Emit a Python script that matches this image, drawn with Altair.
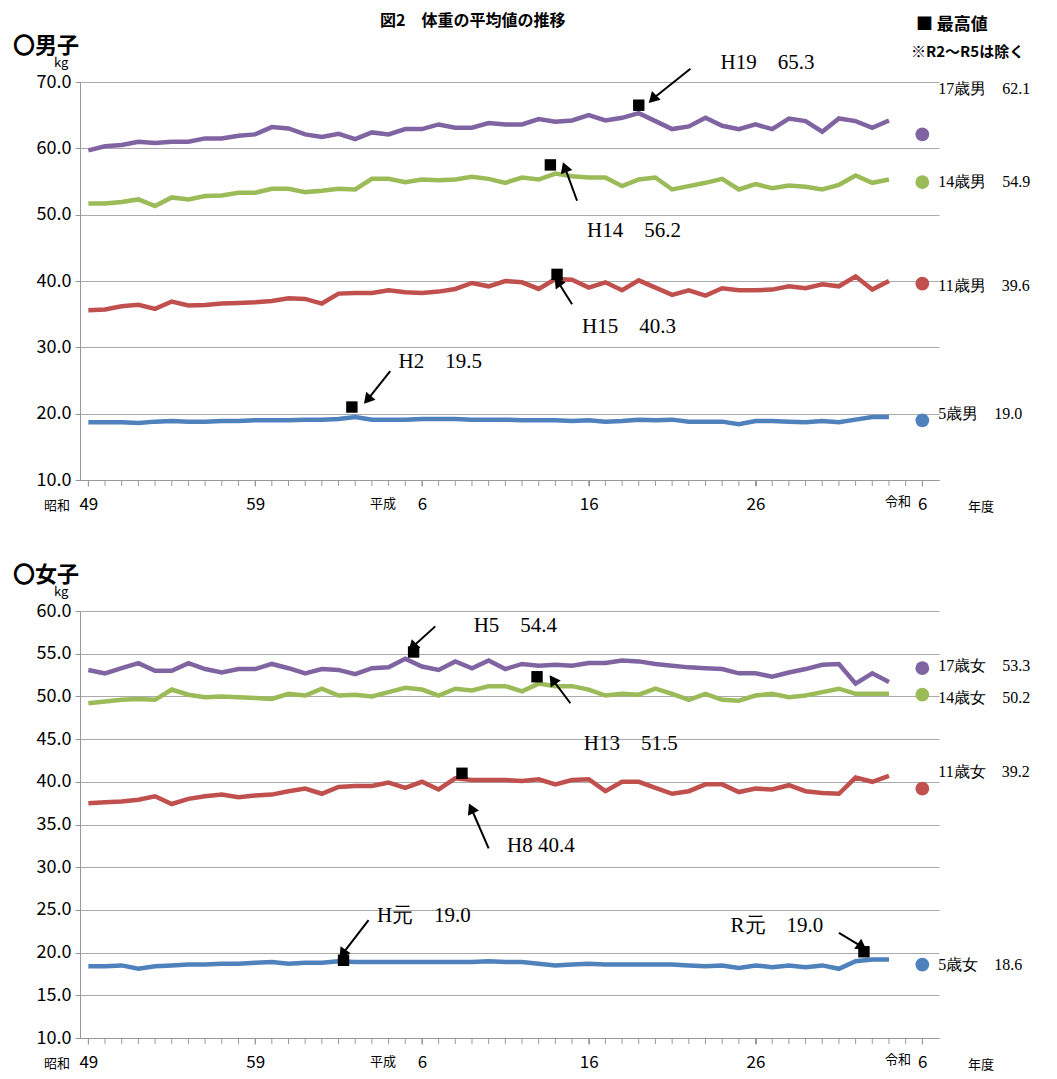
import altair as alt
import pandas as pd

years = list(range(1974, 2023))

boys17 = [59.7, 60.3, 60.5, 61.0, 60.8, 61.0, 61.0, 61.5, 61.5, 61.9, 62.1, 63.2, 63.0, 62.1, 61.7,
          62.2, 61.4, 62.4, 62.1, 62.9, 62.9, 63.6, 63.1, 63.1, 63.8, 63.6, 63.6, 64.4, 64.0, 64.2,
          65.0, 64.2, 64.6, 65.3, 64.1, 62.9, 63.3, 64.6, 63.4, 62.9, 63.6, 62.9, 64.5, 64.1, 62.5,
          64.5, 64.1, 63.1, 64.2]
boys14 = [51.7, 51.7, 51.9, 52.3, 51.3, 52.6, 52.3, 52.8, 52.9, 53.3, 53.3, 53.9, 53.9, 53.4, 53.6,
          53.9, 53.8, 55.4, 55.4, 54.9, 55.3, 55.2, 55.3, 55.7, 55.4, 54.8, 55.6, 55.3, 56.2, 55.8,
          55.6, 55.6, 54.3, 55.3, 55.6, 53.8, 54.3, 54.8, 55.4, 53.8, 54.6, 54.0, 54.4, 54.2, 53.8,
          54.5, 55.9, 54.8, 55.3]
boys11 = [35.6, 35.7, 36.2, 36.4, 35.8, 36.9, 36.3, 36.4, 36.6, 36.7, 36.8, 37.0, 37.4, 37.3, 36.6,
          38.1, 38.2, 38.2, 38.6, 38.3, 38.2, 38.4, 38.8, 39.7, 39.2, 40.0, 39.8, 38.8, 40.3, 40.2,
          39.0, 39.8, 38.6, 40.1, 39.0, 37.9, 38.6, 37.8, 38.9, 38.6, 38.6, 38.7, 39.2, 38.9, 39.5,
          39.2, 40.7, 38.7, 40.0]
boys5 = [18.7, 18.7, 18.7, 18.6, 18.8, 18.9, 18.8, 18.8, 18.9, 18.9, 19.0, 19.0, 19.0, 19.1, 19.1,
         19.2, 19.5, 19.1, 19.1, 19.1, 19.2, 19.2, 19.2, 19.1, 19.1, 19.1, 19.0, 19.0, 19.0, 18.9,
         19.0, 18.8, 18.9, 19.1, 19.0, 19.1, 18.8, 18.8, 18.8, 18.4, 18.9, 18.9, 18.8, 18.7, 18.9,
         18.7, 19.1, 19.5, 19.5]

girls17 = [53.1, 52.7, 53.3, 53.9, 53.0, 53.0, 53.9, 53.2, 52.8, 53.2, 53.2, 53.8, 53.3, 52.7, 53.2,
           53.1, 52.6, 53.3, 53.4, 54.4, 53.5, 53.1, 54.1, 53.3, 54.2, 53.2, 53.8, 53.6, 53.7, 53.6,
           53.9, 53.9, 54.2, 54.1, 53.8, 53.6, 53.4, 53.3, 53.2, 52.7, 52.7, 52.3, 52.8, 53.2, 53.7,
           53.8, 51.5, 52.7, 51.7]
girls14 = [49.2, 49.4, 49.6, 49.7, 49.6, 50.8, 50.2, 49.9, 50.0, 49.9, 49.8, 49.7, 50.3, 50.1, 50.9,
           50.1, 50.2, 50.0, 50.5, 51.0, 50.8, 50.1, 50.9, 50.7, 51.2, 51.2, 50.6, 51.5, 51.2, 51.2,
           50.8, 50.1, 50.3, 50.2, 50.9, 50.3, 49.6, 50.3, 49.6, 49.5, 50.1, 50.3, 49.9, 50.1, 50.5,
           50.9, 50.3, 50.3, 50.3]
girls11 = [37.5, 37.6, 37.7, 37.9, 38.3, 37.4, 38.0, 38.3, 38.5, 38.2, 38.4, 38.5, 38.9, 39.2, 38.6,
           39.4, 39.5, 39.5, 39.9, 39.3, 40.0, 39.1, 40.4, 40.2, 40.2, 40.2, 40.1, 40.3, 39.7, 40.2,
           40.3, 38.9, 40.0, 40.0, 39.3, 38.6, 38.9, 39.7, 39.7, 38.8, 39.2, 39.1, 39.6, 38.9, 38.7,
           38.6, 40.5, 40.0, 40.7]
girls5 = [18.4, 18.4, 18.5, 18.1, 18.4, 18.5, 18.6, 18.6, 18.7, 18.7, 18.8, 18.9, 18.7, 18.8, 18.8,
          19.0, 18.9, 18.9, 18.9, 18.9, 18.9, 18.9, 18.9, 18.9, 19.0, 18.9, 18.9, 18.7, 18.5, 18.6,
          18.7, 18.6, 18.6, 18.6, 18.6, 18.6, 18.5, 18.4, 18.5, 18.2, 18.5, 18.3, 18.5, 18.3, 18.5,
          18.1, 19.0, 19.2, 19.2]

# R6 values (dots at the right end)
boys_names = ["17歳男", "14歳男", "11歳男", "5歳男"]
boys_r6 = [62.1, 54.9, 39.6, 19.0]
boys_label_y = [68.9, 54.9, 39.3, 19.9]
girls_names = ["17歳女", "14歳女", "11歳女", "5歳女"]
girls_r6 = [53.3, 50.2, 39.2, 18.6]
girls_label_y = [53.6, 49.8, 41.1, 18.6]

colors = ["#8064A2", "#9BBB59", "#C0504D", "#4F81BD"]

# max-value annotations: square position, arrow tail/head, label
boys_notes = pd.DataFrame({
    "sx": [2007.0, 2001.7, 2002.1, 1989.8], "sy": [66.5, 57.5, 41.0, 21.0],
    "tx": [2010.1, 2003.3, 2003.0, 1992.1], "ty": [72.0, 52.1, 36.5, 26.4],
    "hx": [2007.9, 2002.6, 2002.2, 1990.8], "hy": [67.6, 56.9, 39.7, 22.3],
    "ang": [225, 340, 325, 220],
    "lx": [2011.9, 2003.9, 2003.6, 1992.6], "ly": [72.9, 47.5, 33.0, 27.8],
    "label": ["H19　65.3", "H14　56.2", "H15　40.3", "H2　19.5"],
})
girls_notes = pd.DataFrame({
    "sx": [1993.5, 2000.9, 1996.4, 1989.3, 2020.5], "sy": [55.2, 52.3, 41.0, 19.1, 20.1],
    "tx": [1994.8, 2002.9, 1998.0, 1990.8, 2019.0], "ty": [58.2, 49.2, 32.2, 23.8, 22.3],
    "hx": [1993.5, 2001.9, 1997.0, 1989.3, 2020.3], "hy": [55.9, 51.8, 36.7, 20.0, 20.8],
    "ang": [225, 325, 335, 215, 125],
    "lx": [1997.1, 2003.7, 1999.1, 1991.3, 2012.5], "ly": [58.2, 44.4, 32.5, 24.3, 23.1],
    "label": ["H5　54.4", "H13　51.5", "H8 40.4", "H元　19.0", "R元　19.0"],
})

SANS = "Noto Sans CJK JP"
SERIF = "Liberation Serif"
tick_years = [1974, 1984, 1994, 2004, 2014, 2024]
tick_text = ["49", "59", "6", "16", "26", "6"]
label_expr = " : ".join(f"datum.value == {k} ? '{v}'" for k, v in zip(tick_years, tick_text)) + " : ''"
minor_years = list(range(1974, 2025))


def text_layer(df, **kw):
    return alt.Chart(df).mark_text(font=SANS, color="#000", align="left", **kw).encode(
        x=alt.X("px:Q", scale=None), y=alt.Y("py:Q", scale=None), text="t:N",
        size=alt.Size("fs:Q", scale=None, legend=None))


def make_panel(names, series, r6, label_y, notes, ymin, ymax, step, height, header):
    width = 859
    rows = []
    for n, s in zip(names, series):
        for y, v in zip(years, s):
            rows.append({"name": n, "year": y, "value": v})
    df = pd.DataFrame(rows)
    ends = pd.DataFrame({"name": names, "year": [2024] * 4, "value": r6, "ly": label_y,
                         "txt": [f"{n}　{v:.1f}" for n, v in zip(names, r6)]})

    xs = alt.Scale(domain=[1973.5, 2025], nice=False, zero=False)
    ys = alt.Scale(domain=[ymin, ymax], nice=False, zero=False)
    cs = alt.Scale(domain=names, range=colors)
    x_ax = alt.Axis(values=tick_years, labelExpr=label_expr, grid=False,
                    title=None, tickSize=6, tickColor="#999", domainColor="#999",
                    labelOverlap=False, labelBound=False, labelFlush=False,
                    labelFontSize=17, labelFont=SANS, labelPadding=10, labelColor="#000")
    y_ax = alt.Axis(values=list(range(ymin, ymax + 1, step)), format=".1f", title=None,
                    gridColor="#aaa", domainColor="#999", tickColor="#999", tickSize=5,
                    labelFontSize=18, labelFont=SANS, labelColor="#000", labelPadding=4)

    base = alt.Chart(df)
    lines = base.mark_line(strokeWidth=4.5, clip=False).encode(
        x=alt.X("year:Q", scale=xs, axis=x_ax),
        y=alt.Y("value:Q", scale=ys, axis=y_ax),
        color=alt.Color("name:N", scale=cs, legend=None),
        detail="name:N",
    )
    minor = alt.Chart(pd.DataFrame({"year": minor_years})).mark_rule(
        color="#999", strokeWidth=1).encode(
        x=alt.X("year:Q", scale=xs), y=alt.value(height), y2=alt.value(height + 6))
    dots = alt.Chart(ends).mark_circle(size=190, opacity=1).encode(
        x=alt.X("year:Q", scale=xs), y=alt.Y("value:Q", scale=ys),
        color=alt.Color("name:N", scale=cs, legend=None))
    dot_txt = alt.Chart(ends).mark_text(align="left", dx=16, font=SERIF, fontSize=16,
                                        color="#000").encode(
        x=alt.X("year:Q", scale=xs), y=alt.Y("ly:Q", scale=ys), text="txt:N")

    nb = alt.Chart(notes)
    squares = nb.mark_square(size=130, color="#000", opacity=1, filled=True).encode(
        x=alt.X("sx:Q", scale=xs), y=alt.Y("sy:Q", scale=ys))
    shafts = nb.mark_rule(color="#000", strokeWidth=2).encode(
        x=alt.X("tx:Q", scale=xs), y=alt.Y("ty:Q", scale=ys), x2="hx:Q", y2="hy:Q")
    heads = nb.mark_point(shape="triangle", size=150, color="#000", filled=True,
                          opacity=1).encode(
        x=alt.X("hx:Q", scale=xs), y=alt.Y("hy:Q", scale=ys),
        angle=alt.Angle("ang:Q", scale=None))
    note_txt = nb.mark_text(align="left", font=SERIF, fontSize=21, color="#000").encode(
        x=alt.X("lx:Q", scale=xs), y=alt.Y("ly:Q", scale=ys), text="label:N")

    head_df = pd.DataFrame({"t": [header], "px": [-67], "py": [-36], "fs": [22]})
    small_df = pd.DataFrame({
        "t": ["kg", "昭和", "平成", "令和", "年度"],
        "px": [-26, -36, 290, 805, 888],
        "py": [-19, height + 26, height + 24, height + 22, height + 27],
        "fs": [13, 13, 13, 13, 13],
    })

    return alt.layer(lines, minor, dots, dot_txt, squares, shafts, heads, note_txt,
                     text_layer(head_df, fontWeight="bold"), text_layer(small_df)).properties(
        width=width, height=height)


top = make_panel(boys_names, [boys17, boys14, boys11, boys5], boys_r6, boys_label_y,
                 boys_notes, 10, 70, 10, 398, "〇男子")
legend = pd.DataFrame({"t": ["図2　体重の平均値の推移", "■  最高値", "※R2～R5は除く"],
                       "px": [300, 836, 831], "py": [-61, -57, -30], "fs": [16, 17, 15]})
top = alt.layer(top, text_layer(legend, fontWeight="bold"))
bottom = make_panel(girls_names, [girls17, girls14, girls11, girls5], girls_r6, girls_label_y,
                    girls_notes, 10, 60, 5, 427, "〇女子")

chart = alt.vconcat(top, bottom, spacing=50).configure_view(stroke=None)

chart.save("out.html", embed_options={"renderer": "svg", "actions": False})
